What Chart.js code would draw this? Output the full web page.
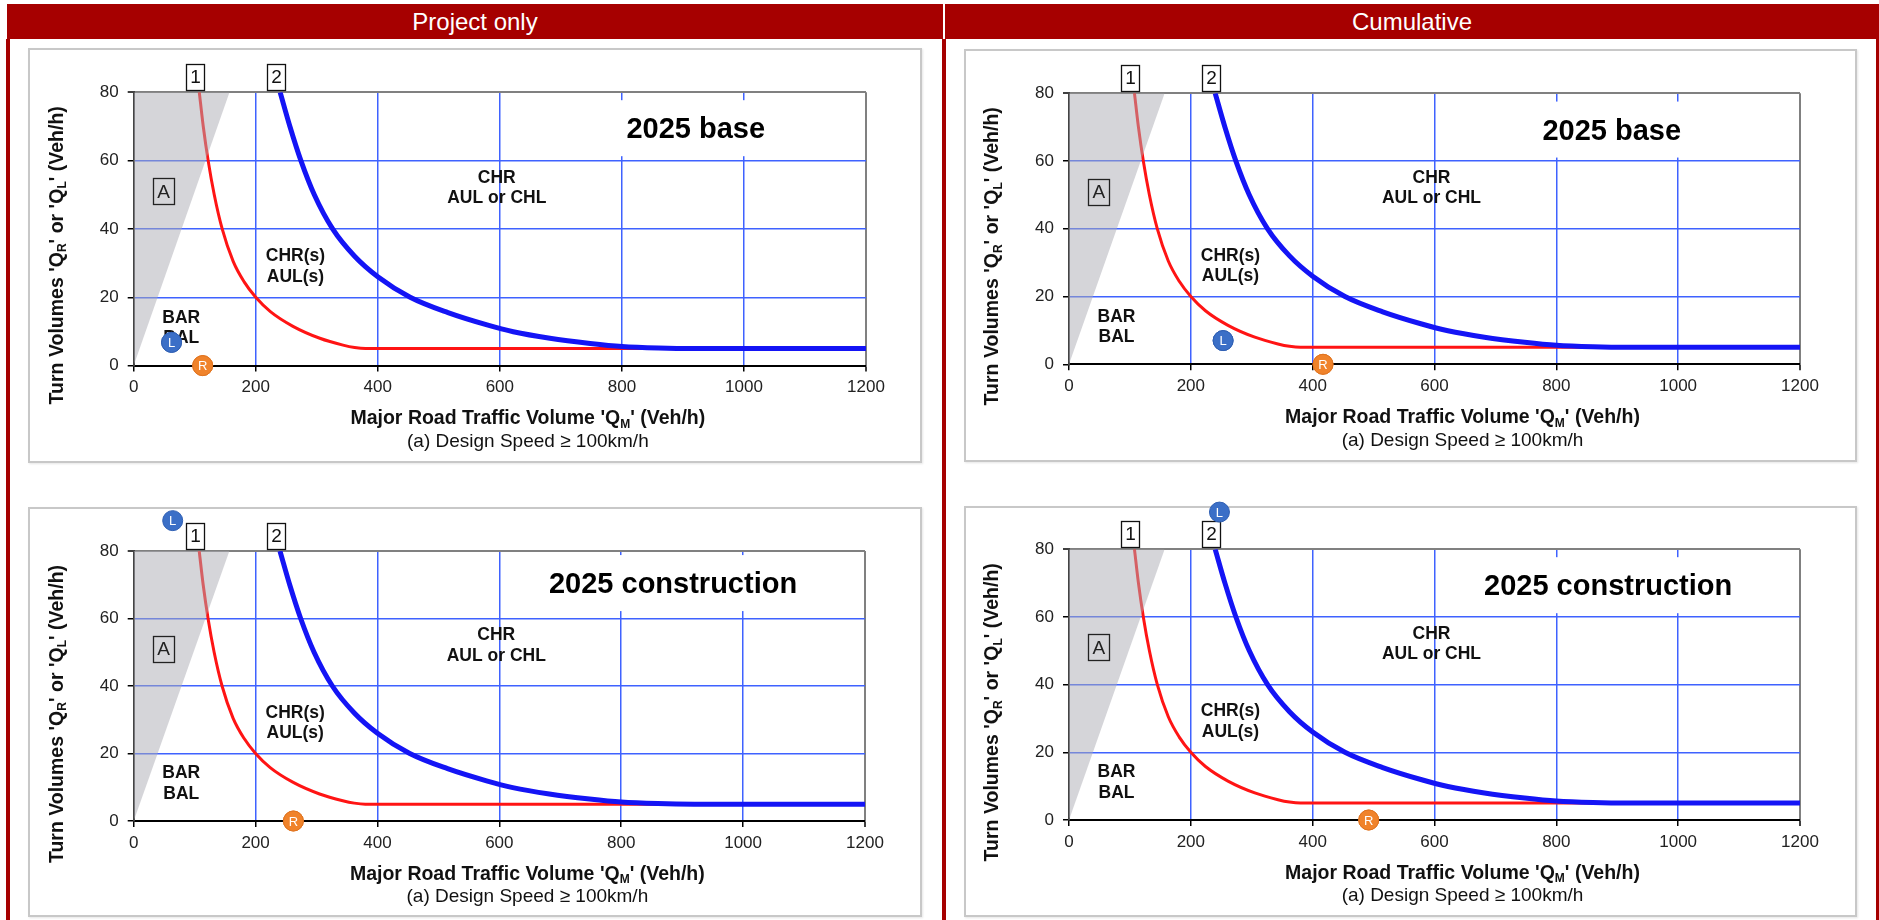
<!DOCTYPE html>
<html>
<head>
<meta charset="utf-8">
<title>Turn warrants</title>
<script src="https://cdn.jsdelivr.net/npm/chart.js@4.4.1/dist/chart.umd.min.js"></script>
<style>
  html, body { margin: 0; padding: 0; background: #fff; }
  body { width: 1879px; height: 920px; position: relative; overflow: hidden;
         font-family: "Liberation Sans", Arial, sans-serif; }
  .hdr { position: absolute; top: 4px; height: 35px; background: #a60000; color: #fff;
         font-size: 24px; display: flex; align-items: center; justify-content: center; }
  .rule { position: absolute; top: 39px; bottom: 0; background: #a60000; }
  .box { position: absolute; box-sizing: border-box; border: 2px solid #c8c8c8;
         box-shadow: 1px 1px 2px rgba(0,0,0,0.10); background: #fff; }
  canvas.pc { position: absolute; }
</style>
</head>
<body>
<script>
// ---- data ----
const headers = ['Project only', 'Cumulative'];
const xTicks = [0, 200, 400, 600, 800, 1000, 1200];
const yTicks = [0, 20, 40, 60, 80];

// warrant curve 1 (BAR/BAL  vs  CHR(s)/AUL(s))
const curve1X = [107.5, 114, 122, 132, 145, 163, 181, 200, 224, 261, 305, 343, 362, 380, 1200];
const curve1Y = [80, 70, 60, 50, 40, 30.5, 24.5, 20, 15.8, 11.5, 8, 6, 5.3, 5, 5];
// warrant curve 2 (CHR(s)/AUL(s)  vs  CHR / AUL or CHL)
const curve2X = [240, 256, 274, 296, 326, 362, 400, 453, 515, 579, 622, 682, 748, 800, 860, 920, 1200];
const curve2Y = [80, 70, 60, 50, 40, 32, 26, 20, 15.5, 11.9, 9.9, 8, 6.5, 5.6, 5.15, 5, 5];
// edge of shaded zone A
const zoneAX = [0, 157];
const zoneAY = [0, 80];

const panelTitles = ['2025 base', '2025 base', '2025 construction', '2025 construction'];
// left-turn (L) and right-turn (R) volumes plotted per scenario
const turnLX = [62, 253, 64, 247];
const turnLY = [6.8, 7, 89, 91];
const turnRX = [113, 417, 262, 492];
const turnRY = [0, 0, 0, 0];

const regionLabels = [
  { lines: ['CHR', 'AUL or CHL'], x: 595, y: 52 },
  { lines: ['CHR(s)', 'AUL(s)'], x: 265, y: 29 },
  { lines: ['BAR', 'BAL'], x: 78, y: 11 }
];
const zoneLabel = { text: 'A', x: 49, y: 51 };
const yTitleParts = [['Turn Volumes \'Q', 0], ['R', 1], ['\' or \'Q', 0], ['L', 1], ['\' (Veh/h)', 0]];
const xTitleParts = [['Major Road Traffic Volume \'Q', 0], ['M', 1], ['\' (Veh/h)', 0]];
const xSubTitle = '(a) Design Speed \u2265 100km/h';

// ---- page layout ----
const layout = [
  { box: [28, 48, 894, 415], plot: [133.7, 92.3, 866, 365.6], titleAt: [921, 69.2] },
  { box: [964, 49, 893, 413], plot: [1069, 93.3, 1800, 364.3], titleAt: [891, 69] },
  { box: [28, 507, 894, 410], plot: [133.7, 551, 865, 821], titleAt: [885, 70.2] },
  { box: [964, 506, 893, 411], plot: [1069, 549.3, 1800, 820], titleAt: [885, 69.1] }
];
const BLEED = 14;   // canvas overhang around each frame so markers may cross it

const FONT = '"Liberation Sans", Arial, sans-serif';
const GRID_BLUE = '#3f62ff';
const EDGE_GREY = '#808080';
const MARK_L = { fill: '#3b6fc7', stroke: '#2f5fb3' };
const MARK_R = { fill: '#f0832b', stroke: '#e07420' };

function el(tag, cls, css) {
  const e = document.createElement(tag);
  if (cls) e.className = cls;
  Object.assign(e.style, css || {});
  document.body.appendChild(e);
  return e;
}

// header bars and red frame rules
el('div', 'hdr', { left: '7px', width: '936px' }).textContent = headers[0];
el('div', 'hdr', { left: '945px', width: '934px' }).textContent = headers[1];
el('div', 'rule', { left: '6px', width: '4px' });
el('div', 'rule', { left: '942px', width: '4px' });
el('div', 'rule', { left: '1876px', width: '3px' });

function drawParts(ctx, parts, size, x, y, align) {
  // text with subscript segments, drawn along the current x axis
  const subSize = Math.round(size * 0.62);
  const widths = parts.map(([t, sub]) => {
    ctx.font = 'bold ' + (sub ? subSize : size) + 'px ' + FONT;
    return ctx.measureText(t).width;
  });
  const total = widths.reduce((a, b) => a + b, 0);
  let cx = align === 'center' ? x - total / 2 : x;
  parts.forEach(([t, sub], i) => {
    ctx.font = 'bold ' + (sub ? subSize : size) + 'px ' + FONT;
    ctx.fillText(t, cx, y + (sub ? size * 0.28 : 0));
    cx += widths[i];
  });
}

const overlay = {
  id: 'overlay',
  beforeDatasetsDraw(chart, args, opts) {
    const { ctx, scales: { x, y } } = chart;
    ctx.save();
    ctx.fillStyle = '#111';
    ctx.textAlign = 'center';
    ctx.textBaseline = 'middle';
    ctx.font = 'bold 17.5px ' + FONT;
    regionLabels.forEach(r => {
      const cx = x.getPixelForValue(r.x);
      const cy = y.getPixelForValue(r.y);
      const n = r.lines.length;
      r.lines.forEach((t, i) => ctx.fillText(t, cx, cy + (i - (n - 1) / 2) * 20.5));
    });
    // scenario title on a white plate
    const t = opts.title;
    const tx = x.getPixelForValue(opts.titleAt[0]);
    const ty = y.getPixelForValue(opts.titleAt[1]);
    ctx.font = 'bold 29px ' + FONT;
    const w = ctx.measureText(t).width;
    ctx.fillStyle = '#fff';
    ctx.fillRect(tx - w / 2 - 9, ty - 29, w + 18, 56);
    ctx.fillStyle = '#000';
    ctx.fillText(t, tx, ty + 1);
    ctx.restore();
  },
  afterDatasetsDraw(chart) {
    const { ctx, chartArea: a, scales: { x, y } } = chart;
    ctx.save();
    ctx.textAlign = 'center';
    ctx.textBaseline = 'middle';
    // zone A tag
    const ax = x.getPixelForValue(zoneLabel.x), ay = y.getPixelForValue(zoneLabel.y);
    ctx.strokeStyle = '#222';
    ctx.lineWidth = 1.3;
    ctx.strokeRect(Math.round(ax - 10.5) + 0.5, Math.round(ay - 13) + 0.5, 21, 26);
    ctx.fillStyle = '#222';
    ctx.font = '19px ' + FONT;
    ctx.fillText(zoneLabel.text, ax, ay + 1);
    // curve number tags above the plot
    [[curve1X[0], '1'], [curve2X[0], '2']].forEach(([v, t]) => {
      const cx = Math.round(x.getPixelForValue(v) - 4);
      const top = Math.round(a.top - 28);
      ctx.fillStyle = '#fff';
      ctx.fillRect(cx - 9, top, 18, 26);
      ctx.strokeStyle = '#111';
      ctx.lineWidth = 1.3;
      ctx.strokeRect(cx - 9 + 0.5, top + 0.5, 18, 26);
      ctx.fillStyle = '#111';
      ctx.font = '19px ' + FONT;
      ctx.fillText(t, cx + 0.5, top + 14);
    });
    // turn markers: the point elements skip drawing once they sit above the
    // plot area, so the discs are painted here at the elements' own positions
    [[0, 'L', MARK_L], [1, 'R', MARK_R]].forEach(([di, t, c]) => {
      chart.getDatasetMeta(di).data.forEach(pt => {
        ctx.beginPath();
        ctx.arc(pt.x, pt.y, 10, 0, Math.PI * 2);
        ctx.fillStyle = c.fill;
        ctx.fill();
        ctx.lineWidth = 1;
        ctx.strokeStyle = c.stroke;
        ctx.stroke();
        ctx.fillStyle = '#fff';
        ctx.font = '13px ' + FONT;
        ctx.fillText(t, pt.x, pt.y + 1);
      });
    });
    ctx.restore();
  },
  afterDraw(chart) {
    const { ctx, chartArea: a } = chart;
    ctx.save();
    ctx.fillStyle = '#111';
    ctx.textBaseline = 'middle';
    // y axis title (rotated)
    ctx.translate(a.left - 76, a.top + 163);
    ctx.rotate(-Math.PI / 2);
    drawParts(ctx, yTitleParts, 19.5, 0, 0, 'center');
    ctx.restore();
    ctx.save();
    ctx.fillStyle = '#111';
    ctx.textBaseline = 'middle';
    const cx = (a.left + a.right) / 2 + 28;
    drawParts(ctx, xTitleParts, 19.5, cx, a.bottom + 53.5, 'center');
    ctx.textAlign = 'center';
    ctx.font = '19px ' + FONT;
    ctx.fillText(xSubTitle, cx, a.bottom + 76);
    ctx.restore();
  }
};

layout.forEach((L, i) => {
  const [bx, by, bw, bh] = L.box;
  const [pl, pt, pr, pb] = L.plot;
  el('div', 'box', { left: bx + 'px', top: by + 'px', width: bw + 'px', height: bh + 'px' });
  // canvas spans the frame plus a bleed margin on every side
  const cx0 = bx - BLEED, cy0 = by - BLEED;
  const cw = bw + 2 * BLEED, ch = bh + 2 * BLEED;
  const cv = el('canvas', 'pc', { left: cx0 + 'px', top: cy0 + 'px' });
  cv.width = cw; cv.height = ch;
  cv.style.width = cw + 'px'; cv.style.height = ch + 'px';

  const pts = (xs, ys) => xs.map((v, k) => ({ x: v, y: ys[k] }));

  new Chart(cv, {
    type: 'line',
    data: {
      datasets: [
        { data: [{ x: turnLX[i], y: turnLY[i] }], showLine: false, pointRadius: 10,
          pointBackgroundColor: MARK_L.fill, pointBorderColor: MARK_L.stroke, pointBorderWidth: 1,
          clip: false, order: 0 },
        { data: [{ x: turnRX[i], y: turnRY[i] }], showLine: false, pointRadius: 10,
          pointBackgroundColor: MARK_R.fill, pointBorderColor: MARK_R.stroke, pointBorderWidth: 1,
          clip: false, order: 0 },
        { data: pts(zoneAX, zoneAY), fill: 'end', backgroundColor: 'rgba(172,172,180,0.5)',
          borderWidth: 0, pointRadius: 0, order: 1 },
        { data: pts(curve2X, curve2Y), borderColor: '#1414f5', borderWidth: 5, pointRadius: 0,
          cubicInterpolationMode: 'monotone', fill: false, order: 2 },
        { data: pts(curve1X, curve1Y), borderColor: '#ff1414', borderWidth: 3, pointRadius: 0,
          cubicInterpolationMode: 'monotone', fill: false, order: 3 }
      ]
    },
    options: {
      responsive: false,
      animation: false,
      devicePixelRatio: 1,
      events: [],
      layout: { padding: { left: 0, top: pt - cy0, right: cx0 + cw - pr, bottom: 0 } },
      plugins: {
        legend: { display: false },
        tooltip: { enabled: false },
        overlay: { title: panelTitles[i], titleAt: L.titleAt }
      },
      scales: {
        x: {
          type: 'linear', min: xTicks[0], max: xTicks[xTicks.length - 1],
          afterBuildTicks: s => { s.ticks = xTicks.map(v => ({ value: v })); },
          afterFit: s => { s.height = cy0 + ch - pb; },
          ticks: { color: '#222', font: { size: 17, family: FONT }, padding: 6,
                   autoSkip: false, maxRotation: 0, callback: v => String(v) },
          grid: {
            color: c => c.tick.value === xTicks[0] ? 'rgba(0,0,0,0)' :
                        (c.tick.value === xTicks[xTicks.length - 1] ? EDGE_GREY : GRID_BLUE),
            lineWidth: c => c.tick.value === xTicks[xTicks.length - 1] ? 2 : 1.5,
            tickColor: '#000', tickLength: 6, tickWidth: 1.5
          },
          border: { color: '#000', width: 2 }
        },
        y: {
          type: 'linear', min: yTicks[0], max: yTicks[yTicks.length - 1],
          afterBuildTicks: s => { s.ticks = yTicks.map(v => ({ value: v })); },
          afterFit: s => { s.width = pl - cx0; },
          ticks: { color: '#222', font: { size: 17, family: FONT }, padding: 9,
                   callback: v => String(v) },
          grid: {
            color: c => c.tick.value === yTicks[0] ? 'rgba(0,0,0,0)' :
                        (c.tick.value === yTicks[yTicks.length - 1] ? EDGE_GREY : GRID_BLUE),
            lineWidth: c => c.tick.value === yTicks[yTicks.length - 1] ? 2 : 1.5,
            tickColor: '#000', tickLength: 6, tickWidth: 1.5
          },
          border: { color: '#444', width: 2 }
        }
      }
    },
    plugins: [overlay]
  });
});
</script>
</body>
</html>
